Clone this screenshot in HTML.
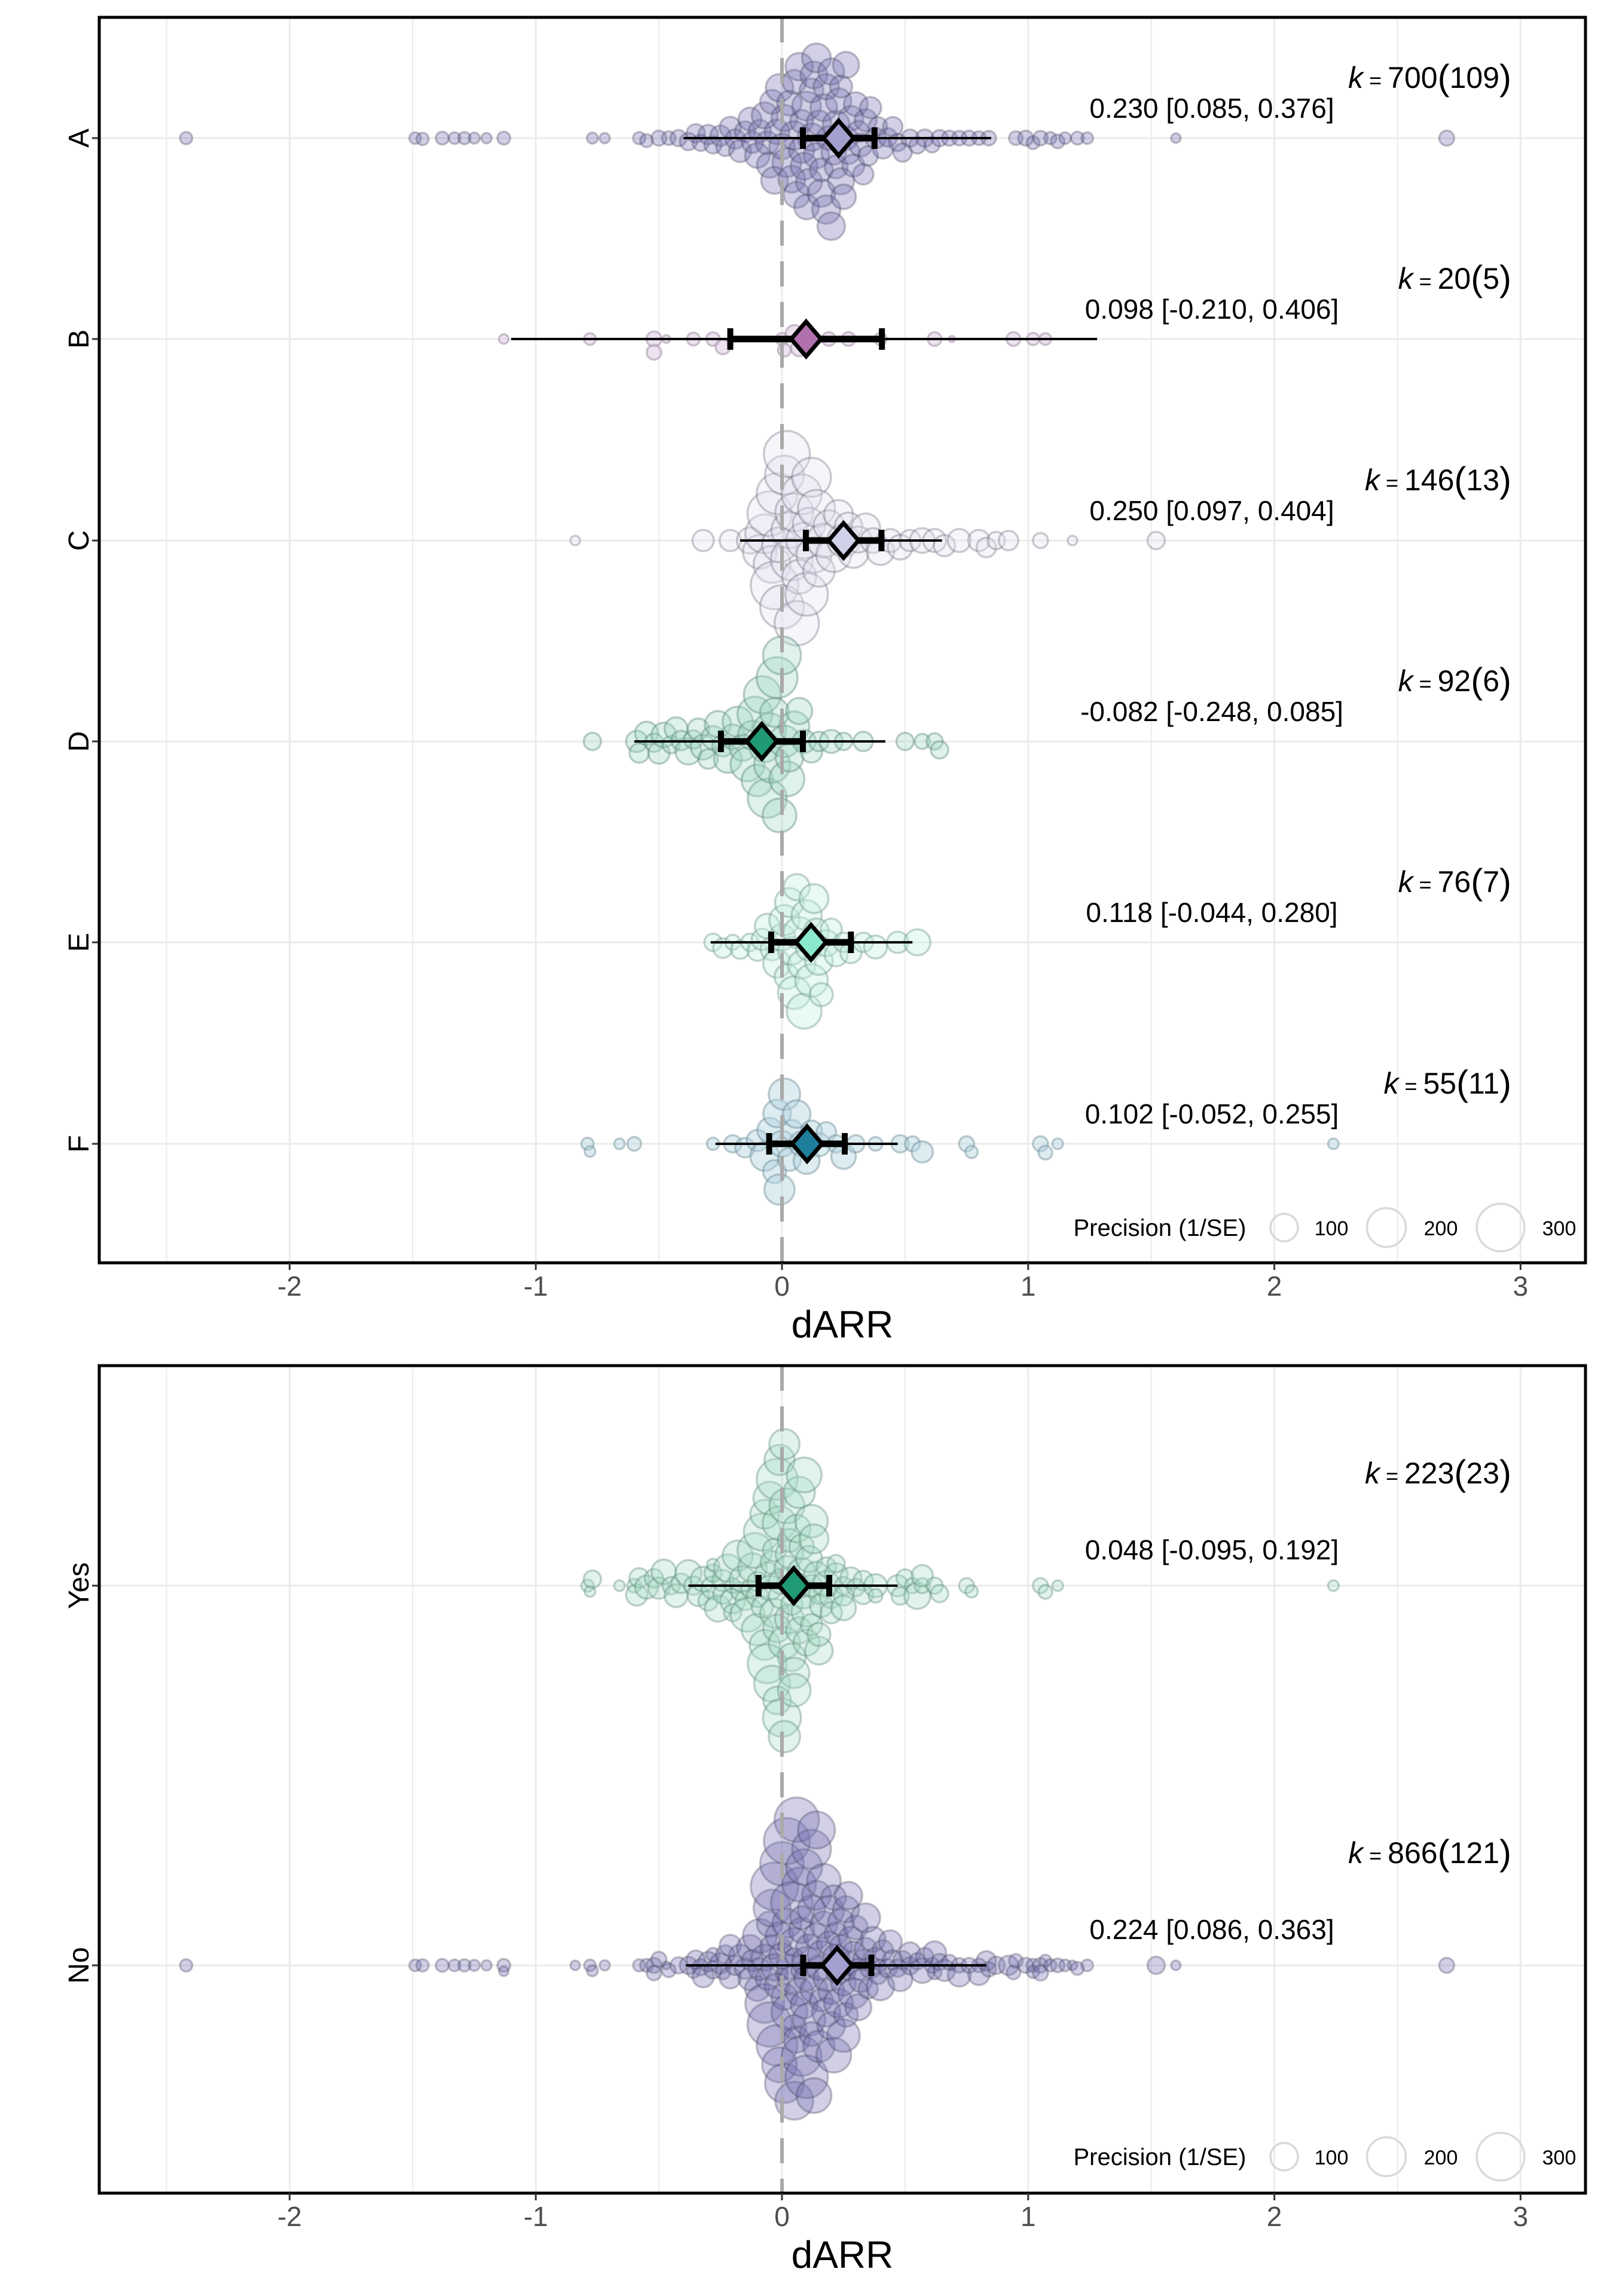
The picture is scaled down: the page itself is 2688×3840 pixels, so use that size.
<!DOCTYPE html>
<html><head><meta charset="utf-8"><style>
html,body{margin:0;padding:0;background:#fff;}
svg{display:block;font-family:"Liberation Sans",Arial,sans-serif;}
</style></head><body>
<svg id="chart" width="2688" height="3840" viewBox="0 0 2688 3840" xmlns="http://www.w3.org/2000/svg"></svg>
<script>
// ---------- data ----------
const groups = ["A","B","C","D","E","F"];
const kTotals = [700,20,146,92,76,55];
const kStudies = [109,5,13,6,7,11];
const estimates = [0.230,0.098,0.250,-0.082,0.118,0.102];
const ciLow = [0.085,-0.210,0.097,-0.248,-0.044,-0.052];
const ciHigh = [0.376,0.406,0.404,0.085,0.280,0.255];
const piLow = [-0.40,-1.10,-0.17,-0.60,-0.29,-0.27];
const piHigh = [0.85,1.28,0.65,0.42,0.53,0.47];

const groups2 = ["Yes","No"];
const kTotals2 = [223,866];
const kStudies2 = [23,121];
const estimates2 = [0.048,0.224];
const ciLow2 = [-0.095,0.086];
const ciHigh2 = [0.192,0.363];
const piLow2 = [-0.38,-0.39];
const piHigh2 = [0.47,0.83];

const xTicks = [-2,-1,0,1,2,3];

const pointsA = [[-2.42,20],[-1.49,18],[-1.46,20],[-1.38,22],[-1.33,18],[-1.29,20],[-1.25,16],[-1.2,14],[-1.13,22],[-0.77,16],[-0.72,14],[-0.58,20],[-0.55,22],[-0.5,30],[-0.46,25],[-0.42,35],[-0.38,40],[-0.35,45],[-0.33,35],[-0.3,50],[-0.28,40],[-0.25,55],[-0.23,45],[-0.21,60],[-0.19,50],[-0.17,65],[-0.15,55],[-0.13,70],[-0.12,60],[-0.1,80],[-0.09,65],[-0.07,90],[-0.06,70],[-0.05,85],[-0.04,75],[-0.03,95],[-0.02,80],[-0.01,100],[0,85],[0.01,90],[0.02,110],[0.03,80],[0.04,95],[0.05,105],[0.05,75],[0.06,90],[0.07,100],[0.08,85],[0.08,70],[0.09,95],[0.1,110],[0.1,80],[0.11,90],[0.12,100],[0.12,75],[0.13,95],[0.14,85],[0.14,110],[0.15,80],[0.16,100],[0.16,70],[0.17,95],[0.18,85],[0.18,105],[0.19,75],[0.2,90],[0.2,100],[0.21,80],[0.22,95],[0.22,70],[0.23,85],[0.24,90],[0.24,65],[0.25,80],[0.26,75],[0.26,90],[0.27,70],[0.28,80],[0.29,65],[0.3,75],[0.31,60],[0.32,70],[0.33,55],[0.34,65],[0.35,50],[0.36,60],[0.38,55],[0.39,45],[0.41,55],[0.43,45],[0.45,50],[0.47,40],[0.49,45],[0.52,40],[0.55,35],[0.58,40],[0.61,30],[0.64,35],[0.68,30],[0.72,28],[0.76,30],[0.8,25],[0.84,28],[0.95,25],[0.99,30],[1.02,22],[1.05,28],[1.09,20],[1.12,25],[1.15,18],[1.2,22],[1.24,18],[1.6,12],[2.7,30]];
const pointsB = [[-1.13,12],[-0.78,18],[-0.52,30],[-0.52,28],[-0.47,8],[-0.36,22],[-0.28,24],[-0.24,28],[0.0,20],[0.01,22],[0.05,40],[0.07,35],[0.19,25],[0.27,25],[0.4,20],[0.62,25],[0.69,5],[0.94,25],[1.02,20],[1.07,18]];
const pointsC = [[-0.84,12],[-0.32,60],[-0.21,60],[-0.13,90],[-0.09,150],[-0.07,200],[-0.05,260],[-0.04,180],[-0.03,300],[-0.02,220],[-0.01,160],[0,250],[0.01,200],[0.02,280],[0.03,170],[0.04,230],[0.05,190],[0.06,260],[0.07,150],[0.08,210],[0.09,170],[0.1,240],[0.11,140],[0.12,200],[0.13,160],[0.14,180],[0.15,130],[0.17,150],[0.19,120],[0.21,160],[0.23,110],[0.25,140],[0.27,100],[0.29,120],[0.31,90],[0.34,110],[0.37,80],[0.4,100],[0.44,70],[0.48,80],[0.52,60],[0.57,80],[0.62,70],[0.66,60],[0.72,70],[0.8,60],[0.83,50],[0.87,40],[0.92,50],[1.05,30],[1.18,12],[1.52,40]];
const pointsD = [[-0.77,40],[-0.59,60],[-0.58,50],[-0.55,70],[-0.52,45],[-0.5,60],[-0.48,80],[-0.45,40],[-0.43,70],[-0.41,50],[-0.38,90],[-0.36,45],[-0.34,60],[-0.32,80],[-0.3,50],[-0.28,70],[-0.26,90],[-0.24,60],[-0.22,100],[-0.2,80],[-0.18,120],[-0.16,90],[-0.14,150],[-0.12,110],[-0.11,160],[-0.1,130],[-0.08,180],[-0.07,120],[-0.06,200],[-0.05,140],[-0.04,170],[-0.03,110],[-0.02,220],[-0.01,150],[0,190],[0.01,130],[0.02,160],[0.03,100],[0.05,120],[0.07,90],[0.09,70],[0.12,60],[0.15,50],[0.2,70],[0.25,40],[0.33,50],[0.5,40],[0.57,30],[0.62,35],[0.64,40]];
const pointsE = [[-0.28,40],[-0.24,50],[-0.2,30],[-0.17,45],[-0.13,40],[-0.1,50],[-0.08,60],[-0.06,80],[-0.04,70],[-0.02,100],[0,90],[0.01,120],[0.02,80],[0.03,110],[0.04,100],[0.05,140],[0.06,90],[0.07,130],[0.08,100],[0.09,160],[0.1,120],[0.11,90],[0.12,140],[0.13,110],[0.14,80],[0.15,100],[0.16,70],[0.18,90],[0.2,60],[0.22,70],[0.25,50],[0.28,60],[0.33,50],[0.38,70],[0.47,60],[0.55,90]];
const pointsF = [[-0.79,20],[-0.78,15],[-0.66,15],[-0.6,25],[-0.28,20],[-0.2,40],[-0.15,50],[-0.1,60],[-0.07,110],[-0.05,80],[-0.03,70],[-0.02,100],[-0.01,120],[0,90],[0.01,130],[0.03,70],[0.04,60],[0.06,100],[0.08,80],[0.1,90],[0.12,60],[0.15,70],[0.18,50],[0.22,40],[0.25,80],[0.3,40],[0.38,25],[0.48,40],[0.53,30],[0.57,60],[0.75,30],[0.77,20],[1.05,30],[1.07,25],[1.12,15],[2.24,15]];
const legendPrec = [100,200,300];

// ---------- styling ----------
const styleTop = [
 {fill:"rgba(118,113,178,0.33)",stroke:"rgba(70,70,95,0.33)",dia:"#a39fce",f:0.62},
 {fill:"rgba(228,210,232,0.65)",stroke:"rgba(165,145,170,0.55)",dia:"#b070ad",f:0.9},
 {fill:"rgba(225,225,242,0.35)",stroke:"rgba(100,100,115,0.33)",dia:"#d0d0e8",f:0.5},
 {fill:"rgba(160,215,195,0.35)",stroke:"rgba(90,135,118,0.4)",dia:"#209a74",f:0.58},
 {fill:"rgba(200,240,225,0.4)",stroke:"rgba(100,145,128,0.38)",dia:"#8ae8cc",f:0.62},
 {fill:"rgba(180,213,225,0.45)",stroke:"rgba(100,130,142,0.4)",dia:"#1d7f9b",f:0.7}];
const styleBot = [
 {fill:"rgba(170,222,200,0.35)",stroke:"rgba(95,140,122,0.38)",dia:"#209a74",f:0.55},
 {fill:"rgba(118,113,178,0.33)",stroke:"rgba(70,70,95,0.33)",dia:"#a39fce",f:0.52}];

const NS="http://www.w3.org/2000/svg";
const svg=document.getElementById("chart");
function el(tag,attrs,parent){const e=document.createElementNS(NS,tag);for(const k in attrs)e.setAttribute(k,attrs[k]);(parent||svg).appendChild(e);return e;}

const X0=1308, UNIT=411.8, LEFT=166, RIGHT=2652;
function xs(v){return X0+v*UNIT;}
function rad(p){return 2.3*Math.sqrt(p);}

function swarm(pts,cy,f){
  const arr=pts.map(p=>({x:xs(p[0]),r:rad(p[1]),p:p[1]})).sort((a,b)=>a.x-b.x);
  const placed=[];
  for(const q of arr){
    const cands=[0];
    for(const o of placed){const d=f*(q.r+o.r);const dx=q.x-o.x;if(Math.abs(dx)<d){const dy=Math.sqrt(d*d-dx*dx);cands.push(o.y+dy,o.y-dy);}}
    cands.sort((a,b)=>Math.abs(a)-Math.abs(b));
    let chosen=0;
    for(const c of cands){let ok=true;for(const o of placed){const d=f*(q.r+o.r)-0.01;const dx=q.x-o.x,dy=c-o.y;if(dx*dx+dy*dy<d*d){ok=false;break;}}if(ok){chosen=c;break;}}
    q.y=chosen;placed.push(q);
  }
  return placed.map(q=>({x:q.x,y:cy+q.y,r:q.r}));
}

let clipN=0;
function panel(cfg){
  const g=el("g",{});
  
  
  const cid="clip"+(clipN++);
  const cp=el("clipPath",{id:cid},g);
  el("rect",{x:LEFT,y:cfg.top,width:RIGHT-LEFT,height:cfg.bottom-cfg.top},cp);
  const inner=el("g",{"clip-path":`url(#${cid})`},g);
  
  
  for(let v=-2.5;v<=3.01;v+=0.5){const gl=el("line",{x1:xs(v),x2:xs(v),y1:cfg.top,y2:cfg.bottom,stroke:"#ebebeb","stroke-width":Number.isInteger(v)?3:2},inner);
    }
  cfg.rows.forEach(ry=>{const gl=el("line",{x1:LEFT,x2:RIGHT,y1:ry,y2:ry,stroke:"#ebebeb","stroke-width":3},inner);
    });
  cfg.labels.forEach((lab,i)=>{
    const pg=el("g",{},inner);
    
    
    const st=cfg.styles[i];
    swarm(cfg.points[i],cfg.rows[i],st.f).forEach(c=>{
      const ci=el("circle",{cx:c.x.toFixed(1),cy:c.y.toFixed(1),r:c.r.toFixed(1),fill:st.fill,stroke:st.stroke,"stroke-width":3.5},pg);
      
      
    });
  });
  const zl=el("line",{x1:xs(0),x2:xs(0),y1:cfg.top,y2:cfg.bottom,stroke:"#a9a9a9","stroke-width":6,"stroke-dasharray":"42,26"},inner);
  
  cfg.labels.forEach((lab,i)=>{
    const y=cfg.rows[i];
    const ig=el("g",{},inner);
    
    
    el("line",{x1:xs(cfg.piL[i]),x2:xs(cfg.piH[i]),y1:y,y2:y,stroke:"#000","stroke-width":4},ig);
    el("line",{x1:xs(cfg.ciL[i]),x2:xs(cfg.ciH[i]),y1:y,y2:y,stroke:"#000","stroke-width":11},ig);
    el("line",{x1:xs(cfg.ciL[i]),x2:xs(cfg.ciL[i]),y1:y-18,y2:y+18,stroke:"#000","stroke-width":10},ig);
    el("line",{x1:xs(cfg.ciH[i]),x2:xs(cfg.ciH[i]),y1:y-18,y2:y+18,stroke:"#000","stroke-width":10},ig);
    const ex=xs(cfg.est[i]);
    el("polygon",{points:`${ex},${y-29} ${ex+25},${y} ${ex},${y+29} ${ex-25},${y}`,fill:cfg.styles[i].dia,stroke:"#000","stroke-width":7,"stroke-linejoin":"miter"},ig);
    const et=el("text",{x:2027,y:y+cfg.estDy+16,"text-anchor":"middle","font-size":46,fill:"#000"},g);
    et.textContent=cfg.est[i].toFixed(3)+" ["+cfg.ciL[i].toFixed(3)+", "+cfg.ciH[i].toFixed(3)+"]";
    
    const kt=el("text",{x:2528,y:y+cfg.kDy+17,"text-anchor":"end","font-size":50,fill:"#000"},g);
    kt.innerHTML=`<tspan font-style="italic">k</tspan><tspan font-size="36"> = </tspan>${cfg.kT[i]}<tspan font-size="60" dy="3">(</tspan><tspan dy="-3">${cfg.kS[i]}</tspan><tspan font-size="60" dy="3">)</tspan>`;
    
    const yl=el("text",{x:0,y:0,transform:`translate(148,${y}) rotate(-90)`,"text-anchor":"middle","font-size":48,fill:"#000"},g);
    yl.textContent=lab;
    
    el("line",{x1:154,x2:LEFT,y1:y,y2:y,stroke:"#333","stroke-width":3},g);
  });
  const br=el("rect",{x:LEFT,y:cfg.top,width:RIGHT-LEFT,height:cfg.bottom-cfg.top,fill:"none",stroke:"#000","stroke-width":5},g);
  
  xTicks.forEach(t=>{
    el("line",{x1:xs(t),x2:xs(t),y1:cfg.bottom,y2:cfg.bottom+12,stroke:"#333","stroke-width":3},g);
    const tl=el("text",{x:xs(t),y:cfg.bottom+55,"text-anchor":"middle","font-size":46,fill:"#4d4d4d"},g);
    tl.textContent=t;
    
  });
  const xt=el("text",{x:1409,y:cfg.bottom+125,"text-anchor":"middle","font-size":64,fill:"#000"},g);
  xt.textContent="dARR";
  
  const lg=el("g",{},g);
  
  const lt=el("text",{x:1940,y:cfg.legendY+14,"text-anchor":"middle","font-size":40,fill:"#000"},lg);
  lt.textContent="Precision (1/SE)";
  const lcx=[2148,2319,2510], ltx=[2227,2410,2608];
  legendPrec.forEach((p,i)=>{
    const c=el("circle",{cx:lcx[i],cy:cfg.legendY,r:rad(p),fill:"none",stroke:"#d9d9d9","stroke-width":3.5},lg);
    
    const t=el("text",{x:ltx[i],y:cfg.legendY+13,"text-anchor":"middle","font-size":34,fill:"#000"},lg);
    t.textContent=p;
  });
}

panel({name:"top-panel",top:29,bottom:2112,rows:[231,567,904,1240,1576,1913],labels:groups,
  points:[pointsA,pointsB,pointsC,pointsD,pointsE,pointsF],styles:styleTop,
  est:estimates,ciL:ciLow,ciH:ciHigh,piL:piLow,piH:piHigh,kT:kTotals,kS:kStudies,estDy:-50,kDy:-101,legendY:2053});
panel({name:"bottom-panel",top:2284,bottom:3668,rows:[2652,3287],labels:groups2,
  points:[pointsD.concat(pointsE,pointsF),pointsA.concat(pointsB,pointsC)],styles:styleBot,
  est:estimates2,ciL:ciLow2,ciH:ciHigh2,piL:piLow2,piH:piHigh2,kT:kTotals2,kS:kStudies2,estDy:-60,kDy:-188,legendY:3607});
</script>
</body></html>
